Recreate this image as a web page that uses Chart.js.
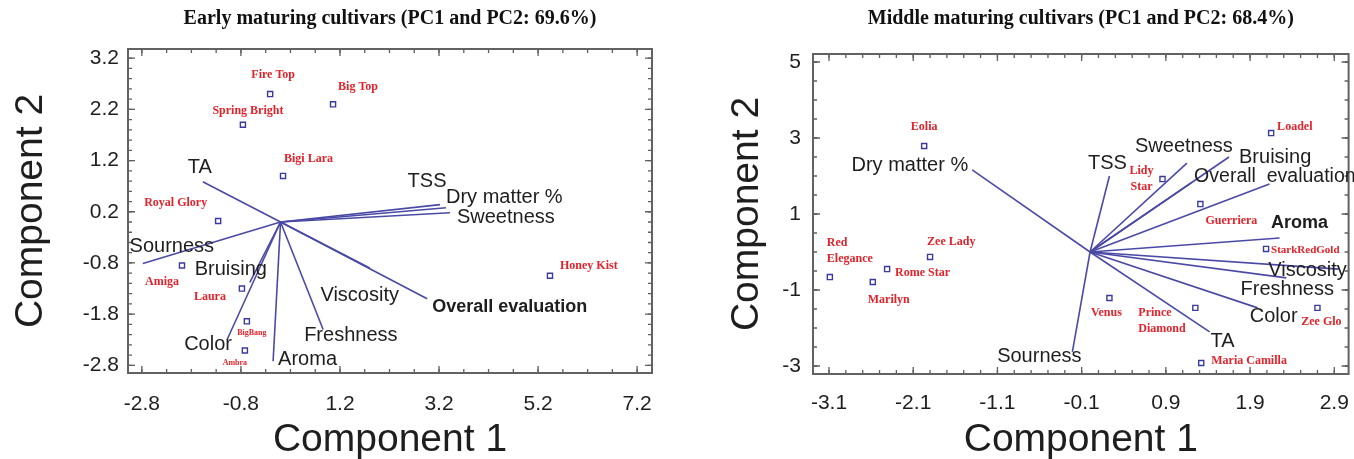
<!DOCTYPE html>
<html>
<head>
<meta charset="utf-8">
<script src="https://cdn.jsdelivr.net/npm/chart.js@4.4.1/dist/chart.umd.min.js"></script>
<style>
  html, body { margin: 0; padding: 0; background: #fff; }
  #wrap { position: relative; width: 1354px; height: 459px; }
  .box { position: absolute; top: 0; height: 459px; }
</style>
</head>
<body>
<div id="wrap">
  <div class="box" style="left:0;width:680px"><canvas id="early"></canvas></div>
  <div class="box" style="left:680px;width:674px"><canvas id="middle"></canvas></div>
</div>
<script>
// ---- Early maturing cultivars ----
const earlyCultivars = ['Fire Top', 'Big Top', 'Spring Bright', 'Bigi Lara', 'Royal Glory', 'Amiga', 'Laura', 'BigBang', 'Ambra', 'Honey Kist'];
const earlyPC1 = [-0.21, 1.06, -0.76, 0.05, -1.26, -1.99, -0.78, -0.68, -0.72, 5.44];
const earlyPC2 = [2.50, 2.30, 1.90, 0.90, 0.02, -0.85, -1.30, -1.94, -2.51, -1.05];
const earlyAttributes = ['TA', 'Sourness', 'Bruising', 'Color', 'Aroma', 'Freshness', 'Viscosity', 'Overall evaluation', 'TSS', 'Dry matter %', 'Sweetness'];
const earlyLoad1 = [-1.57, -2.78, -0.62, -1.08, -0.15, 0.86, 1.80, 2.96, 3.22, 3.34, 3.42];
const earlyLoad2 = [0.785, -0.81, -1.18, -2.30, -2.72, -2.10, -0.90, -1.50, 0.34, 0.28, 0.18];
const earlyXTickLabels = ['-2.8', '-0.8', '1.2', '3.2', '5.2', '7.2'];
const earlyYTickLabels = ['-2.8', '-1.8', '-0.8', '0.2', '1.2', '2.2', '3.2'];

// ---- Middle maturing cultivars ----
const middleCultivars = ['Eolia', 'Red Elegance', 'Marilyn', 'Rome Star', 'Zee Lady', 'Loadel', 'Lidy Star', 'Guerriera', 'StarkRedGold', 'Zee Glo', 'Venus', 'Prince Diamond', 'Maria Camilla'];
const middlePC1 = [-1.97, -3.09, -2.58, -2.41, -1.90, 2.15, 0.86, 1.31, 2.09, 2.70, 0.23, 1.25, 1.32];
const middlePC2 = [2.79, -0.66, -0.79, -0.45, -0.13, 3.13, 1.92, 1.26, 0.08, -1.47, -1.21, -1.47, -2.92];
const middleAttributes = ['Dry matter %', 'TSS', 'Sweetness', 'Bruising', 'Overall  evaluation', '', 'Aroma', 'Viscosity', 'Freshness', 'Color', 'TA', 'Sourness'];
const middleLoad1 = [-1.40, 0.23, 1.15, 1.65, 1.20, 2.13, 2.25, 2.95, 2.33, 1.99, 1.42, -0.21];
const middleLoad2 = [2.16, 2.00, 2.34, 2.50, 1.82, 1.79, 0.37, -0.45, -0.68, -1.47, -2.10, -2.63];
const middleXTickLabels = ['-3.1', '-2.1', '-1.1', '-0.1', '0.9', '1.9', '2.9'];
const middleYTickLabels = ['-3', '-1', '1', '3', '5'];

// label placement (pixel offsets from the mark): [dx, dy, align, size, bold / lines]
const earlyPointLabelPos = {
  'Fire Top': [3, -19, 'center'], 'Big Top': [5, -17, 'left'], 'Spring Bright': [5, -14, 'center'],
  'Bigi Lara': [1, -17, 'left'], 'Royal Glory': [-11, -18, 'right'], 'Amiga': [-20, 16, 'center'],
  'Laura': [-32, 8, 'center'], 'BigBang': [5, 12, 'center', 8], 'Ambra': [-10, 12, 'center', 8],
  'Honey Kist': [10, -10, 'left']
};
const earlyVectorLabelPos = {
  'TA': [-3, -14, 'center'], 'Sourness': [29, -17, 'center'], 'Bruising': [-19, -13, 'center'],
  'Color': [-19, 5, 'center'], 'Aroma': [5, -2, 'left'], 'Freshness': [-19, 6, 'left'],
  'Viscosity': [-10, 27, 'center'], 'Overall evaluation': [5, 8, 'left', 18, true],
  'TSS': [-13, -23, 'center'], 'Dry matter %': [0, -10, 'left'], 'Sweetness': [7, 5, 'left']
};
const middlePointLabelPos = {
  'Eolia': [0, -19, 'center'], 'Red Elegance': [-3, -34, 'left', 12, ['Red', 'Elegance']],
  'Marilyn': [-5, 18, 'left'], 'Rome Star': [8, 4, 'left'], 'Zee Lady': [-3, -15, 'left'],
  'Loadel': [6, -6, 'left'], 'Lidy Star': [-21, -8, 'center', 12, ['Lidy', 'Star']],
  'Guerriera': [31, 17, 'center'], 'StarkRedGold': [5, 1, 'left', 11], 'Zee Glo': [4, 14, 'center'],
  'Venus': [-3, 15, 'center'], 'Prince Diamond': [-57, 5, 'left', 12, ['Prince', 'Diamond']],
  'Maria Camilla': [10, -2, 'left']
};
const middleVectorLabelPos = {
  'Dry matter %': [-4, -4, 'right'], 'TSS': [-2, -13, 'center'], 'Sweetness': [-3, -17, 'center'],
  'Bruising': [10, 0, 'left'], 'Overall  evaluation': [3, -6, 'left', 19.5], 'Aroma': [20, -15, 'center', 18, true],
  'Viscosity': [-31, 1, 'center'], 'Freshness': [1, 12, 'center'], 'Color': [16, 9, 'center'],
  'TA': [13, 10, 'center'], 'Sourness': [-33, 5, 'center']
};

const LINE_COLOR = '#4a4aa6';
const POINT_COLOR = '#3a3a9e';
const RED = '#e3232b';
const INK = '#1e1e1e';
const SANS = '"Liberation Sans", Arial, sans-serif';
const SERIF = '"Liberation Serif", "Times New Roman", serif';

const biplotDecor = {
  id: 'biplotDecor',
  afterDraw(chart, args, o) {
    const { ctx, chartArea: a, scales } = chart;
    const sx = scales.x, sy = scales.y;
    ctx.save();

    // inward tick marks on all four sides
    ctx.strokeStyle = '#5e5e5e';
    ctx.lineWidth = 1.3;
    const marks = (vals, len, horizontal) => {
      vals.forEach(v => {
        if (horizontal) {
          const px = sx.getPixelForValue(v);
          if (px < a.left + 1 || px > a.right - 1) return;
          ctx.beginPath();
          ctx.moveTo(px, a.bottom); ctx.lineTo(px, a.bottom - len);
          ctx.moveTo(px, a.top); ctx.lineTo(px, a.top + len);
          ctx.stroke();
        } else {
          const py = sy.getPixelForValue(v);
          if (py < a.top + 1 || py > a.bottom - 1) return;
          ctx.beginPath();
          ctx.moveTo(a.left, py); ctx.lineTo(a.left + len, py);
          ctx.moveTo(a.right, py); ctx.lineTo(a.right - len, py);
          ctx.stroke();
        }
      });
    };
    const steps = (start, step, max) => {
      const out = [];
      for (let k = 0; start + k * step <= max + 1e-9; k++) out.push(start + k * step);
      return out;
    };
    marks(steps(o.minorX[0], o.minorX[1], sx.max), 4, true);
    marks(steps(o.minorY[0], o.minorY[1], sy.max), 4, false);
    marks(o.xTicks, 7, true);
    marks(o.yTicks, 7, false);

    // frame
    ctx.strokeStyle = '#626262';
    ctx.lineWidth = 2;
    ctx.strokeRect(a.left, a.top, a.right - a.left, a.bottom - a.top);

    const text = (str, x, y, align, font, color, lines) => {
      ctx.font = font;
      ctx.fillStyle = color;
      ctx.textAlign = align;
      ctx.textBaseline = 'middle';
      (lines || [str]).forEach((s, i) => ctx.fillText(s, x, y + i * 16));
    };

    // vector labels
    o.attributes.forEach((name, i) => {
      const p = o.vectorPos[name];
      if (!name || !p) return;
      const x = sx.getPixelForValue(o.load1[i]) + p[0];
      const y = sy.getPixelForValue(o.load2[i]) + p[1];
      const size = p[3] || 20;
      text(name, x, y, p[2], (p[4] ? 'bold ' : '') + size + 'px ' + SANS, INK);
    });

    // cultivar labels
    o.cultivars.forEach((name, i) => {
      const p = o.pointPos[name];
      if (!p) return;
      const x = sx.getPixelForValue(o.pc1[i]) + p[0];
      const y = sy.getPixelForValue(o.pc2[i]) + p[1];
      const size = p[3] || 12;
      text(name, x, y, p[2], 'bold ' + size + 'px ' + SERIF, RED, p[4]);
    });

    // title
    text(o.title, (a.left + a.right) / 2, 19, 'center', 'bold 20px ' + SERIF, '#111');
    ctx.restore();
  }
};

function makeBiplot(id, d) {
  const xTicks = d.xTickLabels.map(Number);
  const yTicks = d.yTickLabels.map(Number);
  const vectors = d.attributes.map((name, i) => ({
    label: name,
    data: [{ x: 0, y: 0 }, { x: d.load1[i], y: d.load2[i] }],
    showLine: true,
    borderColor: LINE_COLOR,
    borderWidth: 1.6,
    pointRadius: 0
  }));
  const points = {
    label: 'cultivars',
    data: d.pc1.map((x, i) => ({ x, y: d.pc2[i] })),
    pointStyle: 'rect',
    pointRadius: 3.6,
    borderWidth: 1.4,
    borderColor: POINT_COLOR,
    backgroundColor: 'rgba(255,255,255,0)',
    showLine: false
  };
  const tickFont = { family: SANS, size: 21 };
  const titleFont = { family: SANS, size: 39 };
  // invisible tick marks only push the labels away from the frame
  const spacer = len => ({ display: true, drawOnChartArea: false, drawTicks: true, tickLength: len, tickColor: 'rgba(0,0,0,0)' });
  return new Chart(document.getElementById(id), {
    type: 'scatter',
    data: { datasets: [...vectors, points] },
    options: {
      responsive: true,
      maintainAspectRatio: false,
      animation: false,
      layout: { padding: { top: d.top, right: d.right, left: 0, bottom: 0 } },
      plugins: {
        legend: { display: false },
        tooltip: { enabled: false },
        biplotDecor: {
          title: d.title, xTicks, yTicks, minorX: d.minorX, minorY: d.minorY,
          attributes: d.attributes, load1: d.load1, load2: d.load2, vectorPos: d.vectorPos,
          cultivars: d.cultivars, pc1: d.pc1, pc2: d.pc2, pointPos: d.pointPos
        }
      },
      scales: {
        x: {
          type: 'linear', min: d.xRange[0], max: d.xRange[1],
          afterBuildTicks: s => { s.ticks = xTicks.map(v => ({ value: v })); },
          afterFit: s => { s.height = d.xAxisHeight; },
          ticks: { callback: (v, i) => d.xTickLabels[i], font: tickFont, color: INK, padding: 0, autoSkip: false, maxRotation: 0 },
          grid: spacer(d.xTickPad),
          border: { display: false },
          title: { display: true, text: 'Component 1', font: titleFont, color: INK, padding: { top: 0, bottom: -5 } }
        },
        y: {
          type: 'linear', min: d.yRange[0], max: d.yRange[1],
          afterBuildTicks: s => { s.ticks = yTicks.map(v => ({ value: v })); },
          afterFit: s => { s.width = d.yAxisWidth; },
          ticks: { callback: (v, i) => d.yTickLabels[i], font: tickFont, color: INK, padding: 0, autoSkip: false },
          grid: spacer(d.yTickPad),
          border: { display: false },
          title: { display: true, text: 'Component 2', font: titleFont, color: INK, padding: { top: d.yTitlePad, bottom: 0 } }
        }
      }
    },
    plugins: [biplotDecor]
  });
}

makeBiplot('early', {
  title: 'Early maturing cultivars (PC1 and PC2: 69.6%)',
  cultivars: earlyCultivars, pc1: earlyPC1, pc2: earlyPC2,
  attributes: earlyAttributes, load1: earlyLoad1, load2: earlyLoad2,
  xTickLabels: earlyXTickLabels, yTickLabels: earlyYTickLabels,
  xRange: [-3.08, 7.5], yRange: [-2.95, 3.38],
  minorX: [-2.8, 0.5], minorY: [-2.8, 0.2],
  pointPos: earlyPointLabelPos, vectorPos: earlyVectorLabelPos,
  top: 49, right: 28, xAxisHeight: 86, yAxisWidth: 128, xTickPad: 19, yTickPad: 9, yTitlePad: 8
});

makeBiplot('middle', {
  title: 'Middle maturing cultivars (PC1 and PC2: 68.4%)',
  cultivars: middleCultivars, pc1: middlePC1, pc2: middlePC2,
  attributes: middleAttributes, load1: middleLoad1, load2: middleLoad2,
  xTickLabels: middleXTickLabels, yTickLabels: middleYTickLabels,
  xRange: [-3.29, 3.07], yRange: [-3.21, 5.21],
  minorX: [-3.1, 0.2], minorY: [-3, 0.5],
  pointPos: middlePointLabelPos, vectorPos: middleVectorLabelPos,
  top: 54, right: 5, xAxisHeight: 85, yAxisWidth: 133, xTickPad: 17, yTickPad: 12, yTitlePad: 44
});
</script>
</body>
</html>
